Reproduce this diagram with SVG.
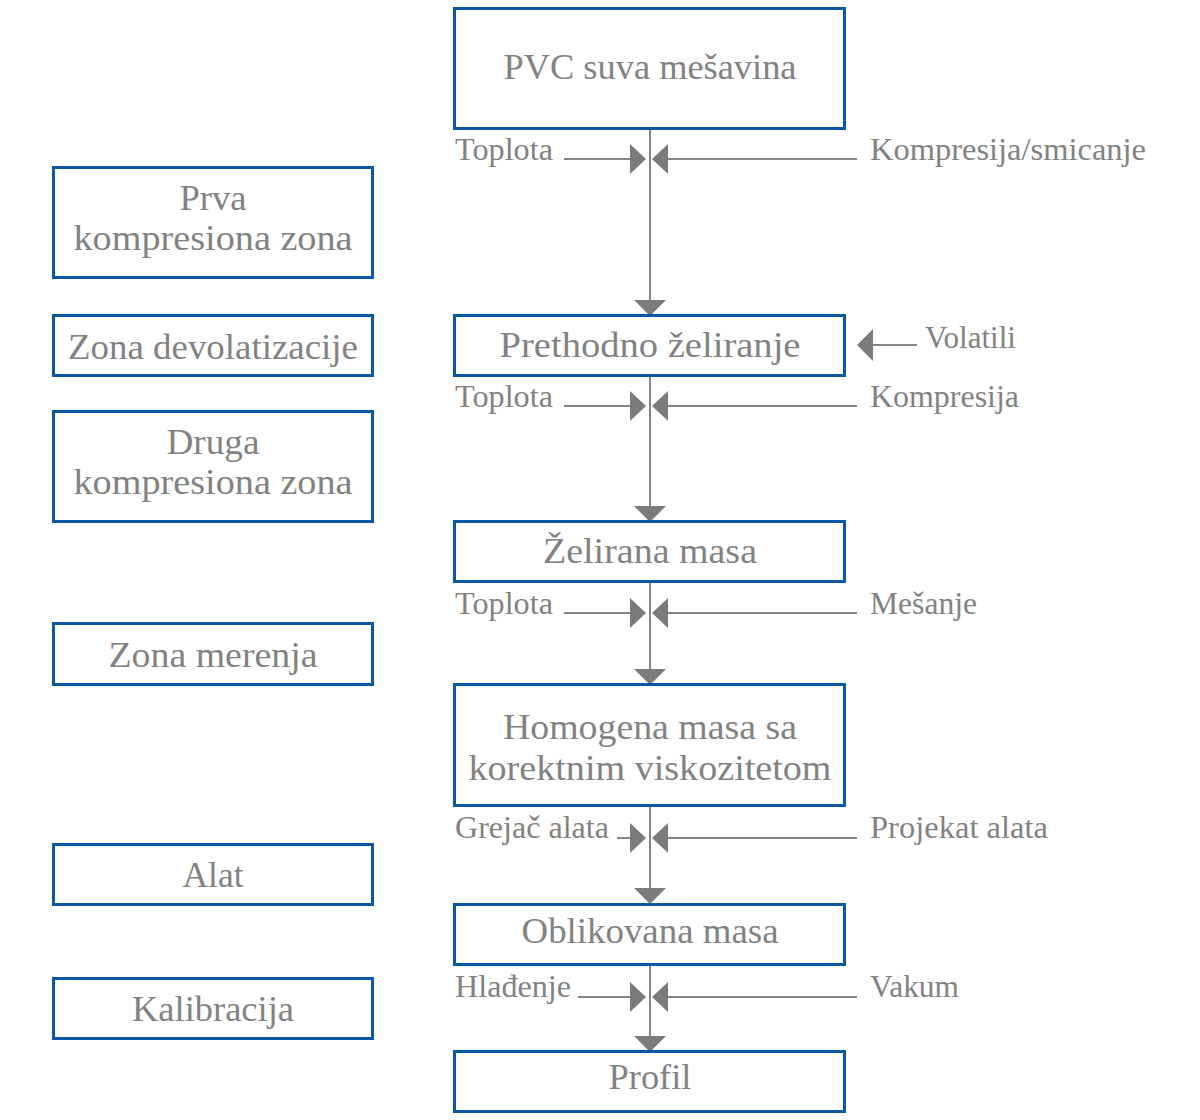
<svg xmlns="http://www.w3.org/2000/svg" width="1200" height="1120" viewBox="0 0 1200 1120">
<style>
.box{fill:#fff;stroke:#0b57a6;stroke-width:3}
.t{font-family:"Liberation Serif","Times New Roman",serif;font-size:36px;fill:#828282;text-anchor:middle}
.l{font-family:"Liberation Serif","Times New Roman",serif;font-size:32px;fill:#828282}
.ln{stroke:#858585;stroke-width:2;fill:none}
.ah{fill:#7b7b7e}
</style>
<rect width="1200" height="1120" fill="#fff"/>
<g id="connectors">
<line class="ln" x1="650" y1="130" x2="650" y2="302"/>
<polygon class="ah" points="634,300 666,300 650,316"/>
<line class="ln" x1="650" y1="377" x2="650" y2="508"/>
<polygon class="ah" points="634,506 666,506 650,522"/>
<line class="ln" x1="650" y1="583" x2="650" y2="671"/>
<polygon class="ah" points="634,669 666,669 650,685"/>
<line class="ln" x1="650" y1="807" x2="650" y2="890"/>
<polygon class="ah" points="634,888 666,888 650,904"/>
<line class="ln" x1="650" y1="966" x2="650" y2="1038"/>
<polygon class="ah" points="634,1036 666,1036 650,1052"/>
<line class="ln" x1="564" y1="159" x2="632" y2="159"/>
<polygon class="ah" points="630,144 630,174 646,159"/>
<line class="ln" x1="857" y1="159" x2="666" y2="159"/>
<polygon class="ah" points="668,144 668,174 652,159"/>
<line class="ln" x1="564" y1="406" x2="632" y2="406"/>
<polygon class="ah" points="630,391 630,421 646,406"/>
<line class="ln" x1="857" y1="406" x2="666" y2="406"/>
<polygon class="ah" points="668,391 668,421 652,406"/>
<line class="ln" x1="564" y1="613" x2="632" y2="613"/>
<polygon class="ah" points="630,598 630,628 646,613"/>
<line class="ln" x1="857" y1="613" x2="666" y2="613"/>
<polygon class="ah" points="668,598 668,628 652,613"/>
<line class="ln" x1="617" y1="838" x2="632" y2="838"/>
<polygon class="ah" points="630,823 630,853 646,838"/>
<line class="ln" x1="857" y1="838" x2="666" y2="838"/>
<polygon class="ah" points="668,823 668,853 652,838"/>
<line class="ln" x1="578" y1="997" x2="632" y2="997"/>
<polygon class="ah" points="630,982 630,1012 646,997"/>
<line class="ln" x1="857" y1="997" x2="666" y2="997"/>
<polygon class="ah" points="668,982 668,1012 652,997"/>
<line class="ln" x1="917" y1="345" x2="871" y2="345"/>
<polygon class="ah" points="873,329 873,361 857,345"/>
</g>
<g id="labels">
<text class="l" x="455" y="160" textLength="98" lengthAdjust="spacingAndGlyphs">Toplota</text>
<text class="l" x="870" y="160" textLength="276" lengthAdjust="spacingAndGlyphs">Kompresija/smicanje</text>
<text class="l" x="925" y="348" textLength="91" lengthAdjust="spacingAndGlyphs">Volatili</text>
<text class="l" x="455" y="407" textLength="98" lengthAdjust="spacingAndGlyphs">Toplota</text>
<text class="l" x="870" y="407" textLength="149" lengthAdjust="spacingAndGlyphs">Kompresija</text>
<text class="l" x="455" y="614" textLength="98" lengthAdjust="spacingAndGlyphs">Toplota</text>
<text class="l" x="870" y="614" textLength="107" lengthAdjust="spacingAndGlyphs">Mešanje</text>
<text class="l" x="455" y="838" textLength="154" lengthAdjust="spacingAndGlyphs">Grejač alata</text>
<text class="l" x="870" y="838" textLength="178" lengthAdjust="spacingAndGlyphs">Projekat alata</text>
<text class="l" x="455" y="997" textLength="116" lengthAdjust="spacingAndGlyphs">Hlađenje</text>
<text class="l" x="870" y="997" textLength="89" lengthAdjust="spacingAndGlyphs">Vakum</text>
</g>
<g id="n1"><rect class="box" x="454.5" y="8.5" width="390" height="120"/><text class="t" x="650" y="79" textLength="293" lengthAdjust="spacingAndGlyphs">PVC suva mešavina</text></g>
<g id="n2"><rect class="box" x="454.5" y="315.5" width="390" height="60"/><text class="t" x="650" y="357" textLength="301" lengthAdjust="spacingAndGlyphs">Prethodno želiranje</text></g>
<g id="n3"><rect class="box" x="454.5" y="521.5" width="390" height="60"/><text class="t" x="650" y="563" textLength="214" lengthAdjust="spacingAndGlyphs">Želirana masa</text></g>
<g id="n4"><rect class="box" x="454.5" y="684.5" width="390" height="121"/><text class="t" x="650" y="739" textLength="294" lengthAdjust="spacingAndGlyphs">Homogena masa sa</text><text class="t" x="650" y="780" textLength="363" lengthAdjust="spacingAndGlyphs">korektnim viskozitetom</text></g>
<g id="n5"><rect class="box" x="454.5" y="904.5" width="390" height="60"/><text class="t" x="650" y="943" textLength="257" lengthAdjust="spacingAndGlyphs">Oblikovana masa</text></g>
<g id="n6"><rect class="box" x="454.5" y="1051.5" width="390" height="60"/><text class="t" x="650" y="1089" textLength="83" lengthAdjust="spacingAndGlyphs">Profil</text></g>
<g id="z1"><rect class="box" x="53.5" y="167.5" width="319" height="110"/><text class="t" x="213" y="210" textLength="67" lengthAdjust="spacingAndGlyphs">Prva</text><text class="t" x="213" y="250" textLength="279" lengthAdjust="spacingAndGlyphs">kompresiona zona</text></g>
<g id="z2"><rect class="box" x="53.5" y="315.5" width="319" height="60"/><text class="t" x="213" y="359" textLength="290" lengthAdjust="spacingAndGlyphs">Zona devolatizacije</text></g>
<g id="z3"><rect class="box" x="53.5" y="411.5" width="319" height="110"/><text class="t" x="213" y="454" textLength="93" lengthAdjust="spacingAndGlyphs">Druga</text><text class="t" x="213" y="494" textLength="279" lengthAdjust="spacingAndGlyphs">kompresiona zona</text></g>
<g id="z4"><rect class="box" x="53.5" y="623.5" width="319" height="61"/><text class="t" x="213" y="667" textLength="209" lengthAdjust="spacingAndGlyphs">Zona merenja</text></g>
<g id="z5"><rect class="box" x="53.5" y="844.5" width="319" height="60"/><text class="t" x="213" y="887" textLength="61" lengthAdjust="spacingAndGlyphs">Alat</text></g>
<g id="z6"><rect class="box" x="53.5" y="978.5" width="319" height="60"/><text class="t" x="213" y="1021" textLength="162" lengthAdjust="spacingAndGlyphs">Kalibracija</text></g>
</svg>
